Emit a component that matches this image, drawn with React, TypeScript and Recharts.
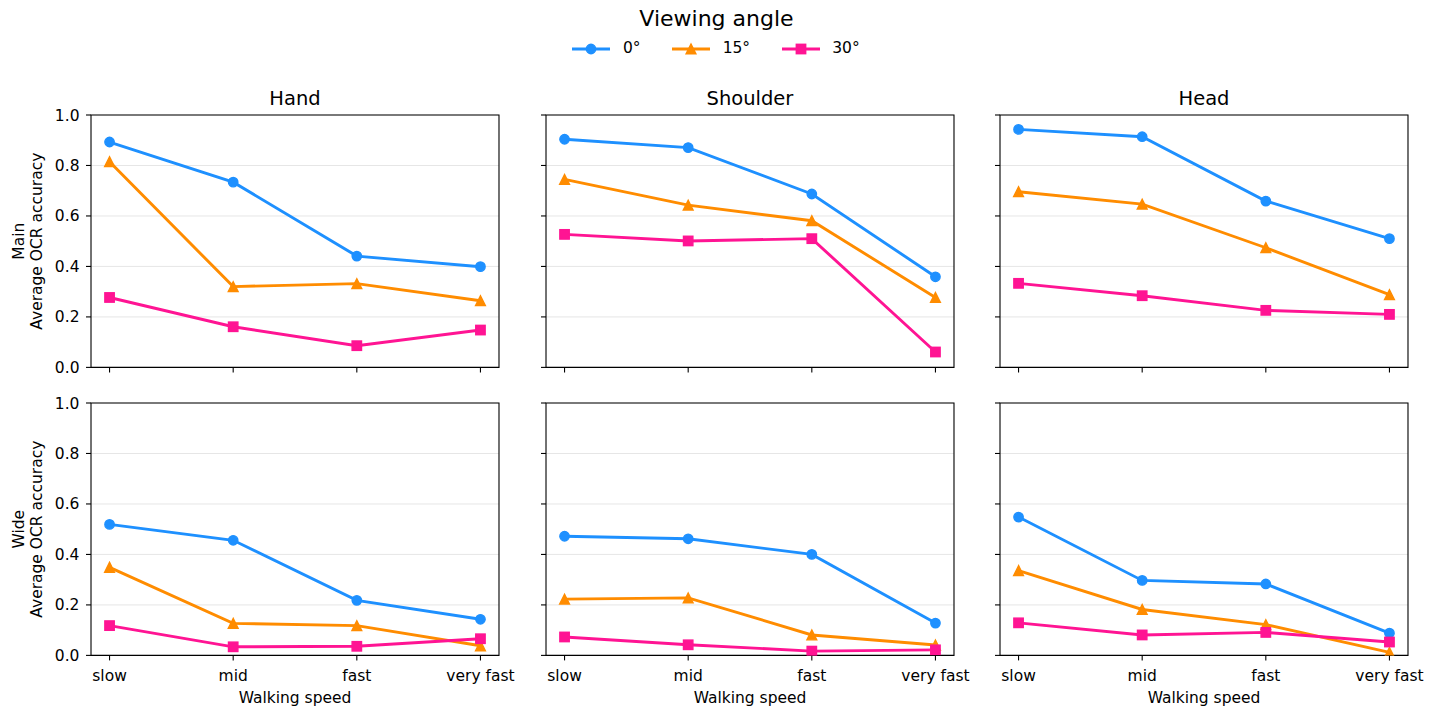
import React from 'react';
import { LineChart, Line, XAxis, YAxis, CartesianGrid, ReferenceArea, Label } from 'recharts';

// Categories and labels
const speeds = ['slow', 'mid', 'fast', 'very fast'];
const angleNames = ['0°', '15°', '30°'];
const angleColors = ['#1E90FF', '#FF8C00', '#FF1493'];
const angleMarkers = ['circle', 'triangle', 'square'];
const mounts = ['Hand', 'Shoulder', 'Head'];
const cameras = ['Main', 'Wide'];
const yTicks = [0, 0.2, 0.4, 0.6, 0.8, 1.0];
const xTicks = [0, 1, 2, 3];

// Average OCR accuracy per viewing angle (rows: 0°, 15°, 30°), per walking speed
const mainHand = [
  [0.893, 0.734, 0.441, 0.399],
  [0.815, 0.320, 0.332, 0.264],
  [0.277, 0.161, 0.086, 0.148],
];
const mainShoulder = [
  [0.904, 0.871, 0.687, 0.359],
  [0.745, 0.643, 0.581, 0.277],
  [0.527, 0.501, 0.510, 0.061],
];
const mainHead = [
  [0.943, 0.914, 0.659, 0.510],
  [0.696, 0.647, 0.474, 0.288],
  [0.333, 0.284, 0.226, 0.210],
];
const wideHand = [
  [0.519, 0.456, 0.218, 0.143],
  [0.349, 0.127, 0.118, 0.038],
  [0.118, 0.034, 0.036, 0.066],
];
const wideShoulder = [
  [0.472, 0.462, 0.400, 0.128],
  [0.223, 0.228, 0.081, 0.041],
  [0.073, 0.042, 0.017, 0.022],
];
const wideHead = [
  [0.548, 0.297, 0.283, 0.088],
  [0.336, 0.182, 0.122, 0.012],
  [0.129, 0.081, 0.091, 0.053],
];

const panelValues = [
  [mainHand, mainShoulder, mainHead],
  [wideHand, wideShoulder, wideHead],
];

// Layout
const FONT = '"DejaVu Sans", "Liberation Sans", sans-serif';
const TICK_FS = 15.5;
const PLOT_W = 408;
const PLOT_H = 252.4;
const COL_PLOT_LEFT = [90.7, 546, 1000.3];
const ROW_PLOT_TOP = [115, 403.3];
const Y_AXIS_W = 60;
const LEFT_PAD = 90;
const TOP_PAD = 50;
const RIGHT_PAD = 45;
const X_DOMAIN: [number, number] = [-0.15, 3.15];
const LINE_W = 2.9;

function makeDot(kind: string, color: string) {
  return (props: any) => {
    const { cx, cy, index } = props;
    if (cx == null || cy == null) return <g key={`d-${index}`} />;
    const sw = 1.4;
    if (kind === 'circle') {
      return <circle key={`d-${index}`} cx={cx} cy={cy} r={4.7} fill={color} stroke={color} strokeWidth={sw} />;
    }
    if (kind === 'triangle') {
      const h = 4.9;
      return (
        <polygon
          key={`d-${index}`}
          points={`${cx},${cy - h} ${cx - h},${cy + h} ${cx + h},${cy + h}`}
          fill={color}
          stroke={color}
          strokeWidth={sw}
          strokeLinejoin="miter"
        />
      );
    }
    const s = 4.7;
    return <rect key={`d-${index}`} x={cx - s} y={cy - s} width={2 * s} height={2 * s} fill={color} stroke={color} strokeWidth={sw} />;
  };
}

function YLabel({ camera }: { camera: string }) {
  const x = 23.3 - (COL_PLOT_LEFT[0] - LEFT_PAD);
  const y = TOP_PAD + PLOT_H / 2;
  return (
    <text
      x={x}
      y={y}
      transform={`rotate(-90 ${x} ${y})`}
      textAnchor="middle"
      fill="#000"
      fontSize={TICK_FS}
      fontFamily={FONT}
    >
      <tspan x={x} dy={0}>{camera}</tspan>
      <tspan x={x} dy={18.5}>Average OCR accuracy</tspan>
    </text>
  );
}

function Panel({ row, col }: { row: number; col: number }) {
  const values = panelValues[row][col];
  const data = speeds.map((_, i) => ({ x: i, a0: values[0][i], a1: values[1][i], a2: values[2][i] }));
  const isBottom = row === 1;
  const isLeft = col === 0;
  const xAxisH = isBottom ? 54 : 20;
  const bottomMargin = 2;
  const width = LEFT_PAD + PLOT_W + RIGHT_PAD;
  const height = TOP_PAD + PLOT_H + xAxisH + bottomMargin;
  const left = COL_PLOT_LEFT[col] - LEFT_PAD;
  const top = ROW_PLOT_TOP[row] - TOP_PAD;

  return (
    <div style={{ position: 'absolute', left, top, width, height }}>
      <LineChart
        width={width}
        height={height}
        data={data}
        margin={{ top: TOP_PAD, right: RIGHT_PAD, bottom: bottomMargin, left: LEFT_PAD - Y_AXIS_W }}
      >
        <CartesianGrid vertical={false} stroke="#e6e6e6" strokeWidth={1} />
        <XAxis
          type="number"
          dataKey="x"
          domain={X_DOMAIN}
          ticks={xTicks}
          interval={0}
          allowDataOverflow
          tickFormatter={(v: number) => (isBottom ? speeds[v] : '')}
          axisLine={false}
          tickLine={{ stroke: '#000', strokeWidth: 1.1 }}
          tickSize={5}
          tickMargin={10}
          height={xAxisH}
          tick={{ fill: '#000', fontSize: TICK_FS, fontFamily: FONT }}
        >
          {isBottom && (
            <Label value="Walking speed" position="insideBottom" offset={6} fill="#000" fontSize={TICK_FS} fontFamily={FONT} />
          )}
        </XAxis>
        <YAxis
          type="number"
          domain={[0, 1]}
          ticks={yTicks}
          interval={0}
          allowDataOverflow
          width={Y_AXIS_W}
          tickFormatter={(v: number) => (isLeft ? v.toFixed(1) : '')}
          axisLine={false}
          tickLine={{ stroke: '#000', strokeWidth: 1.1 }}
          tickSize={5}
          tickMargin={6.5}
          tick={{ fill: '#000', fontSize: TICK_FS, fontFamily: FONT }}
        >
          {isLeft && <Label content={() => <YLabel camera={cameras[row]} />} />}
        </YAxis>
        <ReferenceArea
          x1={X_DOMAIN[0]}
          x2={X_DOMAIN[1]}
          y1={0}
          y2={1}
          fill="none"
          fillOpacity={0}
          stroke="#000"
          strokeWidth={1.1}
          ifOverflow="visible"
          label={
            row === 0 ? (
              <Label value={mounts[col]} position="top" offset={10} fill="#000" fontSize={19.5} fontFamily={FONT} />
            ) : undefined
          }
        />
        {angleNames.map((name, k) => (
          <Line
            key={name}
            name={name}
            type="linear"
            dataKey={`a${k}`}
            stroke={angleColors[k]}
            strokeWidth={LINE_W}
            dot={makeDot(angleMarkers[k], angleColors[k])}
            activeDot={false}
            isAnimationActive={false}
          />
        ))}
      </LineChart>
    </div>
  );
}

function LegendHandle({ kind, color }: { kind: string; color: string }) {
  const w = 38;
  const c = w / 2;
  const y = 7;
  return (
    <svg width={w} height={14} style={{ display: 'block' }}>
      <line x1={0} y1={y} x2={w} y2={y} stroke={color} strokeWidth={LINE_W} />
      {makeDot(kind, color)({ cx: c, cy: y, index: 0 })}
    </svg>
  );
}

function FigureLegend() {
  return (
    <>
      <div
        style={{
          position: 'absolute',
          left: 0,
          top: 8,
          width: 1433,
          textAlign: 'center',
          fontFamily: FONT,
          fontSize: 22,
          lineHeight: '22px',
          color: '#000',
          whiteSpace: 'nowrap',
        }}
      >
        Viewing angle
      </div>
      <div
        style={{
          position: 'absolute',
          left: 0,
          top: 41,
          width: 1432,
          display: 'flex',
          justifyContent: 'center',
          alignItems: 'center',
          gap: 31.5,
          fontFamily: FONT,
          fontSize: TICK_FS,
          lineHeight: `${TICK_FS}px`,
          color: '#000',
        }}
      >
        {angleNames.map((name, k) => (
          <div key={name} style={{ display: 'flex', alignItems: 'center' }}>
            <LegendHandle kind={angleMarkers[k]} color={angleColors[k]} />
            <span style={{ marginLeft: 12.6, whiteSpace: 'nowrap' }}>{name}</span>
          </div>
        ))}
      </div>
    </>
  );
}

export default function App() {
  return (
    <div
      style={{
        position: 'absolute',
        left: 0,
        top: 0,
        width: 1445,
        height: 711,
        background: '#fff',
        overflow: 'hidden',
        fontFamily: FONT,
      }}
    >
      <FigureLegend />
      {[0, 1].map((row) => [0, 1, 2].map((col) => <Panel key={`${row}-${col}`} row={row} col={col} />))}
    </div>
  );
}
